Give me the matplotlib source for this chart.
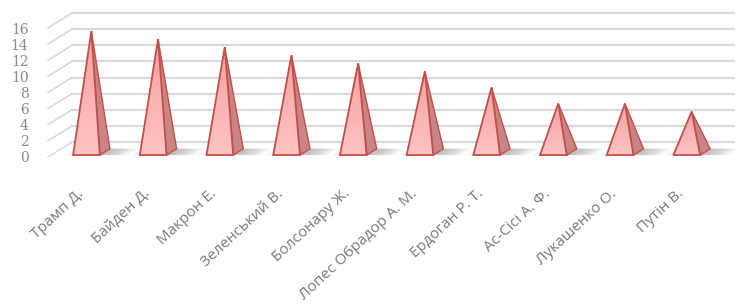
import numpy as np
import matplotlib
matplotlib.use("Agg")
import matplotlib.pyplot as plt
from matplotlib.patches import Polygon

names = ["Трамп Д.", "Байден Д.", "Макрон Е.", "Зеленський В.", "Болсонару Ж.",
         "Лопес Обрадор А. М.", "Ердоган Р. Т.", "Ас-Сісі А. Ф.", "Лукашенко О.", "Путін В."]
values = [15, 14, 13, 12, 11, 10, 8, 6, 6, 5]
yticks = [0, 2, 4, 6, 8, 10, 12, 14, 16]

# fake 3d: depth offset of the back wall, in data units
DX, DY = 0.36, 1.86
HALF_W = 0.2
D_FRONT, D_BACK, D_MID = 0.13, 0.55, 0.34
APEX_DX = 0.12
SHIFT = 0.03


def proj(x, y, d):
    return (x + d * DX, y + d * DY)


W, H = 735, 304
fig = plt.figure(figsize=(7.35, 3.04), dpi=100)
ax = fig.add_axes([48 / W, (H - 157) / H, 667 / W, 129 / H])
for s in ax.spines.values():
    s.set_visible(False)

grid_c = "#d9d9d9"
x0, x1 = -0.5, len(names) - 0.5
for y in yticks:
    # back wall
    ax.plot([x0 + DX, x1 + DX], [y + DY, y + DY], color=grid_c, lw=1.6,
            clip_on=False, zorder=1)
    # side wall
    ax.plot([x0, x0 + DX], [y, y + DY], color=grid_c, lw=1.2,
            clip_on=False, zorder=1)

grad = np.linspace(0, 1, 100).reshape(-1, 1)
cmap = matplotlib.colors.LinearSegmentedColormap.from_list("pk", ["#ffc4c2", "#f6a09e"])

for i, v in enumerate(values):
    xc = i + SHIFT
    fl = proj(xc - HALF_W, 0, D_FRONT)
    fr = proj(xc + HALF_W, 0, D_FRONT)
    br = proj(xc + HALF_W, 0, D_BACK)
    bl = proj(xc - HALF_W, 0, D_BACK)
    apex = (xc + APEX_DX, v + D_MID * DY)

    # soft shadow on the floor
    for k in range(8):
        L = 0.06 + k * 0.05
        sh = Polygon([fr, (fr[0] + L, fr[1]), (br[0] + L, br[1]), br],
                     closed=True, facecolor="#7f7f7f", edgecolor="none",
                     alpha=0.08, zorder=2, clip_on=False)
        ax.add_patch(sh)
    for k in range(3):
        L = 0.04 + k * 0.04
        sh = Polygon([(fl[0] - L, fl[1]), fl, bl, (bl[0] - L, bl[1])],
                     closed=True, facecolor="#7f7f7f", edgecolor="none",
                     alpha=0.06, zorder=2, clip_on=False)
        ax.add_patch(sh)

    side = Polygon([fr, br, apex], closed=True, facecolor="#c98583",
                   edgecolor="#c0504d", lw=1.0, zorder=3, clip_on=False)
    ax.add_patch(side)
    front = Polygon([fl, fr, apex], closed=True, facecolor="none",
                    edgecolor="#c0504d", lw=1.3, zorder=5, clip_on=False)
    ax.add_patch(front)
    img = ax.imshow(grad, cmap=cmap, aspect="auto", zorder=4,
                    extent=[fl[0], fr[0], fl[1], apex[1]], origin="lower")
    img.set_clip_path(front)

ax.set_xlim(-0.5, len(names) - 0.5)
ax.set_ylim(0, 16)

ax.set_yticks(yticks)
ax.set_yticklabels([str(t) for t in yticks], fontsize=10, color="#8a8a8a",
                   family="DejaVu Serif")
ax.tick_params(axis="y", length=0, pad=14)

ax.set_xticks(range(len(names)))
ax.set_xticklabels(names, rotation=43, ha="right", va="center",
                   rotation_mode="anchor", fontsize=11, color="#7a7a7a",
                   family="Open Sans")
ax.tick_params(axis="x", length=0, pad=25)

fig.savefig("out.png", dpi=100)
